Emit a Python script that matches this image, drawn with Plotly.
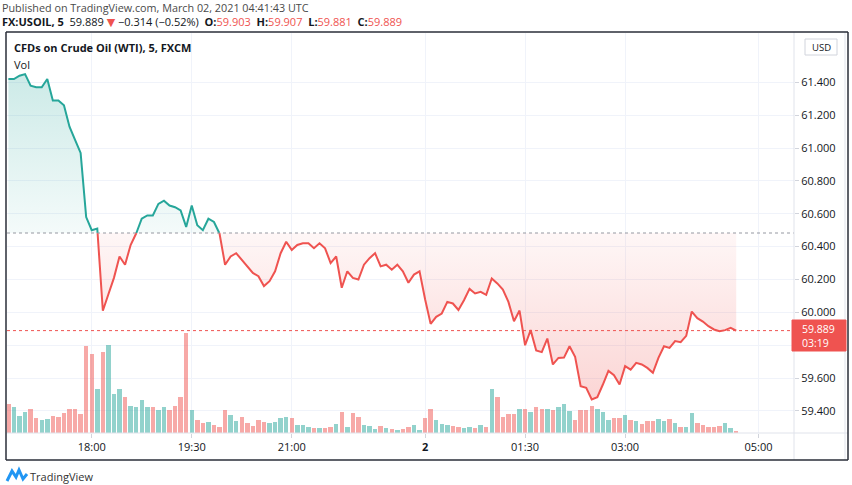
import plotly.graph_objects as go

# ---------------- data ----------------
time_ticks = [15, 33, 51, 75, 93, 111, 135]
time_labels = ["18:00", "19:30", "21:00", "<b>2</b>", "01:30", "03:00", "05:00"]

close = [
    61.42, 61.42, 61.44, 61.45, 61.38, 61.37, 61.37, 61.42, 61.29, 61.29,
    61.26, 61.13, 61.05, 60.97, 60.58, 60.50, 60.51, 60.01, 60.11, 60.21,
    60.34, 60.29, 60.41, 60.48, 60.57, 60.59, 60.59, 60.66, 60.68, 60.65,
    60.64, 60.62, 60.52, 60.65, 60.53, 60.50, 60.57, 60.55, 60.48, 60.29,
    60.34, 60.36, 60.32, 60.28, 60.24, 60.22, 60.16, 60.19, 60.25, 60.36,
    60.43, 60.38, 60.41, 60.42, 60.42, 60.39, 60.42, 60.39, 60.30, 60.34,
    60.15, 60.25, 60.21, 60.20, 60.29, 60.33, 60.36, 60.28, 60.29, 60.26,
    60.29, 60.25, 60.18, 60.23, 60.25, 60.08, 59.930, 59.973, 59.993, 60.064,
    60.054, 60.015, 60.074, 60.143, 60.115, 60.125, 60.107, 60.206, 60.176, 60.139,
    60.064, 59.946, 60.011, 59.800, 59.892, 59.768, 59.758, 59.841, 59.683, 59.723,
    59.725, 59.794, 59.729, 59.551, 59.541, 59.470, 59.484, 59.561, 59.644, 59.618,
    59.561, 59.673, 59.652, 59.693, 59.683, 59.662, 59.632, 59.723, 59.794, 59.784,
    59.825, 59.819, 59.857, 60.005, 59.965, 59.944, 59.916, 59.896, 59.886, 59.892,
    59.906, 59.889,
]

volume = [
    87, 79, 51, 64, 72, 44, 40, 42, 51, 48,
    59, 72, 73, 58, 261, 236, 131, 242, 262, 116,
    132, 107, 81, 77, 98, 77, 79, 70, 79, 68,
    82, 109, 299, 68, 40, 31, 34, 25, 18, 70,
    55, 35, 49, 29, 22, 40, 34, 29, 33, 46,
    48, 44, 25, 25, 19, 14, 16, 16, 18, 27,
    63, 19, 61, 49, 25, 22, 13, 20, 16, 12,
    10, 12, 18, 24, 10, 46, 72, 38, 27, 24,
    22, 17, 15, 19, 14, 24, 19, 131, 107, 49,
    57, 57, 73, 73, 62, 77, 72, 72, 68, 79,
    87, 67, 40, 69, 69, 81, 72, 64, 40, 46,
    46, 54, 39, 37, 28, 37, 35, 42, 37, 42,
    31, 19, 18, 59, 30, 23, 17, 17, 22, 31,
    16, 7,
]

# 1 = up candle, 0 = down candle
vol_up = [
    0, 1, 1, 1, 0, 0, 1, 1, 0, 0,
    0, 0, 0, 0, 0, 0, 1, 0, 1, 1,
    1, 0, 1, 1, 1, 1, 0, 1, 1, 0,
    0, 0, 0, 1, 0, 0, 1, 0, 0, 0,
    1, 1, 0, 0, 0, 0, 0, 1, 1, 1,
    1, 0, 1, 1, 1, 0, 1, 0, 0, 1,
    0, 1, 0, 0, 1, 1, 1, 0, 1, 0,
    1, 0, 0, 1, 1, 0, 0, 1, 1, 1,
    0, 0, 1, 1, 0, 1, 0, 1, 0, 0,
    0, 0, 1, 0, 1, 0, 0, 1, 0, 1,
    1, 1, 0, 0, 0, 0, 1, 1, 1, 0,
    0, 1, 0, 1, 0, 0, 0, 1, 1, 0,
    1, 0, 1, 1, 0, 0, 0, 0, 0, 1,
    1, 0,
]

price_ticks = [59.4, 59.6, 59.8, 60.0, 60.2, 60.4, 60.6, 60.8, 61.0, 61.2, 61.4]
last_price = 59.889
countdown = "03:19"

# ---------------- layout helpers ----------------
W, H = 852, 485
L, R, T, B = 7, 794, 33, 433
YMIN, YMAX = 59.266, 61.700
BASE = (YMIN + YMAX) / 2
XMIN, XMAX = -0.25, 141.4

TEAL = "#26a69a"
RED = "#ef5350"
FONT = "Open Sans, Noto Sans, DejaVu Sans, sans-serif"
TXT = "#131722"


def PX(x):
    return (x - L) / (R - L)


def PY(y):
    return (B - y) / (B - T)


idx = list(range(len(close)))

# dense series with baseline crossings
dx, dy = [], []
for i in range(len(close)):
    dx.append(i)
    dy.append(close[i])
    if i < len(close) - 1:
        a, b = close[i] - BASE, close[i + 1] - BASE
        if a * b < 0:
            t = (BASE - close[i]) / (close[i + 1] - close[i])
            dx.append(i + t)
            dy.append(BASE)

eps = 1e-9
up_line = [y if y >= BASE - eps else None for y in dy]
dn_line = [y if y <= BASE + eps else None for y in dy]
up_fill = [max(y, BASE) for y in dy]
dn_fill = [min(y, BASE) for y in dy]
base_arr = [BASE] * len(dx)

fig = go.Figure()

# volume on primary (hidden) axis
fig.add_trace(go.Bar(
    x=idx, y=volume,
    marker=dict(color=["rgba(38,166,154,0.5)" if u else "rgba(239,83,80,0.5)" for u in vol_up],
                line=dict(width=0)),
    width=0.8, yaxis="y", hoverinfo="skip", showlegend=False,
))

# fills on price axis
fig.add_trace(go.Scatter(x=dx, y=base_arr, mode="lines", line=dict(width=0), yaxis="y2",
                         hoverinfo="skip", showlegend=False))
fig.add_trace(go.Scatter(
    x=dx, y=up_fill, mode="lines", line=dict(width=0), fill="tonexty", yaxis="y2",
    fillgradient=dict(type="vertical", start=BASE, stop=YMAX,
                      colorscale=[[0, "rgba(38,166,154,0.05)"], [1, "rgba(38,166,154,0.28)"]]),
    hoverinfo="skip", showlegend=False))
fig.add_trace(go.Scatter(x=dx, y=base_arr, mode="lines", line=dict(width=0), yaxis="y2",
                         hoverinfo="skip", showlegend=False))
fig.add_trace(go.Scatter(
    x=dx, y=dn_fill, mode="lines", line=dict(width=0), fill="tonexty", yaxis="y2",
    fillgradient=dict(type="vertical", start=BASE, stop=YMIN,
                      colorscale=[[0, "rgba(239,83,80,0.05)"], [1, "rgba(239,83,80,0.28)"]]),
    hoverinfo="skip", showlegend=False))

# lines
fig.add_trace(go.Scatter(x=dx, y=up_line, mode="lines", line=dict(color=TEAL, width=2),
                         yaxis="y2", connectgaps=False, hoverinfo="skip", showlegend=False))
fig.add_trace(go.Scatter(x=dx, y=dn_line, mode="lines", line=dict(color=RED, width=2),
                         yaxis="y2", connectgaps=False, hoverinfo="skip", showlegend=False))

shapes = []
# baseline & last price dotted lines
shapes.append(dict(type="line", xref="paper", yref="y2", x0=0, x1=1, y0=BASE, y1=BASE,
                   line=dict(color="#9598a1", width=1, dash="dot")))
shapes.append(dict(type="line", xref="paper", yref="y2", x0=0, x1=PX(793), y0=last_price, y1=last_price,
                   line=dict(color=RED, width=1, dash="dot")))
# separators
shapes.append(dict(type="line", xref="paper", yref="paper", x0=PX(794), x1=PX(794), y0=PY(32), y1=PY(460),
                   line=dict(color="#e0e3eb", width=1)))
shapes.append(dict(type="line", xref="paper", yref="paper", x0=PX(845), x1=PX(845), y0=PY(32), y1=PY(460),
                   line=dict(color="#e0e3eb", width=1)))
shapes.append(dict(type="line", xref="paper", yref="paper", x0=PX(6), x1=PX(848), y0=PY(433), y1=PY(433),
                   line=dict(color="#e0e3eb", width=1)))
# outer frame
for (x0, y0, x1, y1) in [(6, 32, 848, 32), (6, 460, 848, 460), (6, 32, 6, 460), (848, 32, 848, 460)]:
    shapes.append(dict(type="line", xref="paper", yref="paper", x0=PX(x0), x1=PX(x1), y0=PY(y0), y1=PY(y1),
                       line=dict(color="#2a2e39", width=1.5), layer="above"))
# price label box
shapes.append(dict(type="rect", xref="paper", yref="paper", x0=PX(792), x1=PX(846), y0=PY(320), y1=PY(351),
                   line=dict(color=RED, width=1), fillcolor=RED, layer="above"))
# USD box
shapes.append(dict(type="rect", xref="paper", yref="paper", x0=PX(805), x1=PX(837), y0=PY(39), y1=PY(55),
                   line=dict(color="#d1d4dc", width=1), fillcolor="white"))
# TradingView logo
lx = [7, 12, 16, 19, 23, 27]
ly = [481, 471, 477, 470, 479, 474]
path = "M " + " L ".join(f"{PX(a)} {PY(b)}" for a, b in zip(lx, ly))
shapes.append(dict(type="path", xref="paper", yref="paper", path=path,
                   line=dict(color="#2196f3", width=3)))

ann = []


def add_text(x, y, text, size=12, color=TXT, anchor="left"):
    ann.append(dict(xref="paper", yref="paper", x=PX(x), y=PY(y), text=text, showarrow=False,
                    xanchor=anchor, yanchor="middle", borderpad=0,
                    font=dict(family=FONT, size=size, color=color)))


add_text(1, 7, "Published on TradingView.com, March 02, 2021 04:41:43 UTC", 10.8, "#4a4a4a")
line2 = ("<b>FX:USOIL, 5</b>  59.889 <span style='color:#ef5350'>▼</span> −0.314 (−0.52%)  "
         "<b>O:</b><span style='color:#ef5350'>59.903</span>  "
         "<b>H:</b><span style='color:#ef5350'>59.907</span>  "
         "<b>L:</b><span style='color:#ef5350'>59.881</span>  "
         "<b>C:</b><span style='color:#ef5350'>59.889</span>")
add_text(1, 21.5, line2, 11, TXT)
add_text(13, 48, "<b>CFDs on Crude Oil (WTI), 5, FXCM</b>", 11, TXT)
add_text(13, 64, "Vol", 11, TXT)
add_text(821, 47, "USD", 9.5, TXT, "center")
add_text(801, 329, f"{last_price:.3f}", 10.5, "white")
add_text(801, 343, countdown, 10.5, "white")
add_text(29, 476, "TradingView", 11, "#333333")

fig.update_layout(
    width=W, height=H,
    margin=dict(l=L, r=W - R, t=T, b=H - B, autoexpand=False),
    paper_bgcolor="white", plot_bgcolor="white",
    showlegend=False, bargap=0,
    xaxis=dict(range=[XMIN, XMAX], tickvals=time_ticks, ticktext=time_labels,
               showgrid=True, gridcolor="#f0f3fa", gridwidth=1, zeroline=False,
               ticks="outside", ticklen=4, tickcolor="#d1d4dc",
               tickfont=dict(family=FONT, size=11, color=TXT), showline=False, fixedrange=True),
    yaxis=dict(range=[0, 4 * max(volume)], visible=False, showgrid=False, fixedrange=True),
    yaxis2=dict(range=[YMIN, YMAX], overlaying="y", side="right",
                tickvals=price_ticks,
                ticktext=["" if abs(v - 59.8) < 1e-6 else f"{v:.3f}" for v in price_ticks],
                showgrid=True, gridcolor="#f0f3fa", gridwidth=1, zeroline=False,
                ticks="outside", ticklen=4, tickcolor="#d1d4dc",
                tickfont=dict(family=FONT, size=11, color=TXT), showline=False, fixedrange=True),
    shapes=shapes, annotations=ann,
)

fig.write_html("out.html", config={"displayModeBar": False},
               post_script="document.body.style.margin='0';document.body.style.overflow='hidden';")
